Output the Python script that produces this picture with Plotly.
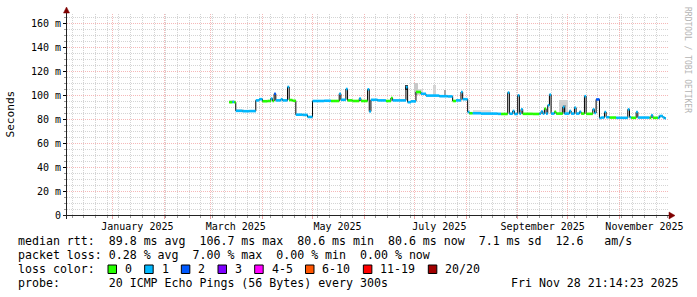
import plotly.graph_objects as go
import pandas as pd

# ---------------- data ----------------
dates = [
    "2025-03-12", "2025-03-14", "2025-03-15", "2025-03-16", "2025-03-20", "2025-03-24",
    "2025-03-28", "2025-03-30", "2025-04-01", "2025-04-04", "2025-04-06", "2025-04-07",
    "2025-04-08", "2025-04-09", "2025-04-12", "2025-04-13", "2025-04-16", "2025-04-17",
    "2025-04-19", "2025-04-21", "2025-04-25", "2025-04-28", "2025-05-01", "2025-05-08",
    "2025-05-12", "2025-05-17", "2025-05-18", "2025-05-21", "2025-05-22", "2025-05-25",
    "2025-05-29", "2025-05-30", "2025-06-03", "2025-06-04", "2025-06-05", "2025-06-09",
    "2025-06-14", "2025-06-17", "2025-06-18", "2025-06-26", "2025-06-27", "2025-06-29",
    "2025-07-02", "2025-07-05", "2025-07-08", "2025-07-16", "2025-07-21", "2025-07-24",
    "2025-07-26", "2025-07-29", "2025-07-30", "2025-08-02", "2025-08-03", "2025-08-05",
    "2025-08-10", "2025-08-20", "2025-08-22", "2025-08-26", "2025-08-27", "2025-08-29",
    "2025-08-30", "2025-09-01", "2025-09-02", "2025-09-03", "2025-09-04", "2025-09-10",
    "2025-09-14", "2025-09-15", "2025-09-16", "2025-09-17", "2025-09-18", "2025-09-19",
    "2025-09-20", "2025-09-21", "2025-09-23", "2025-09-24", "2025-09-28", "2025-09-29",
    "2025-10-02", "2025-10-03", "2025-10-05", "2025-10-06", "2025-10-08", "2025-10-09",
    "2025-10-11", "2025-10-12", "2025-10-16", "2025-10-17", "2025-10-18", "2025-10-20",
    "2025-10-21", "2025-10-23", "2025-10-24", "2025-10-26", "2025-10-30", "2025-11-06",
    "2025-11-07", "2025-11-08", "2025-11-11", "2025-11-12", "2025-11-19", "2025-11-20",
    "2025-11-21", "2025-11-24", "2025-11-25", "2025-11-27", "2025-11-28",
]
median_ms = [
    94.0, 94.2, 94.0, 86.8, 86.5, 86.6,
    95.5, 96.5, 94.8, 95.0, 97.0, 95.0,
    101.0, 95.5, 96.5, 95.5, 106.7, 95.8,
    95.2, 83.6, 83.4, 81.7, 95.0, 95.2,
    95.0, 101.0, 96.0, 105.0, 95.5, 95.0,
    97.0, 95.0, 104.7, 86.3, 96.0, 95.5,
    95.0, 97.5, 95.5, 106.5, 94.0, 94.7,
    102.5, 101.0, 99.5, 99.0, 98.8, 95.0,
    95.5, 102.5, 96.5, 85.8, 84.8, 84.8,
    84.5, 84.3, 84.2, 102.0, 84.4, 86.7,
    84.2, 99.7, 84.5, 88.0, 84.3, 84.2,
    84.5, 86.3, 84.5, 88.6, 84.5, 91.4,
    100.3, 84.5, 86.0, 84.5, 90.0, 84.5,
    86.7, 84.5, 89.4, 84.5, 86.0, 84.5,
    99.0, 84.3, 88.0, 85.0, 96.3, 80.8,
    81.2, 85.8, 81.5, 81.2, 81.0, 88.0,
    81.5, 81.0, 85.8, 81.2, 81.0, 83.0,
    81.0, 81.0, 82.5, 81.3, 80.6,
]
lost_pings = [
    0, 1, 0, 1, 1, 1,
    1, 1, 0, 0, 1, 0,
    2, 1, 1, 1, 1, 0,
    0, 1, 1, 1, 1, 1,
    0, 1, 1, 1, 0, 0,
    1, 0, 1, 1, 1, 1,
    0, 0, 1, 1, 1, 1,
    0, 1, 1, 1, 1, 0,
    1, 1, 1, 1, 0, 1,
    1, 1, 0, 1, 1, 1,
    1, 1, 1, 1, 0, 0,
    1, 1, 1, 0, 1, 1,
    1, 1, 0, 0, 1, 1,
    1, 1, 1, 1, 1, 0,
    1, 0, 1, 1, 2, 1,
    1, 1, 1, 0, 1, 1,
    1, 0, 1, 1, 0, 1,
    0, 1, 1, 1, 1,
]
data_end = "2025-11-28 21:00"

# smoke (spread of the 20 pings)
smoke_start = ["2025-03-12", "2025-03-16", "2025-07-01", "2025-07-03", "2025-07-12", "2025-07-19",
               "2025-08-05", "2025-09-26", "2025-09-28", "2025-06-26", "2025-11-24"]
smoke_end = ["2025-03-16", "2025-03-21", "2025-07-03", "2025-07-06", "2025-07-14", "2025-07-20",
             "2025-08-16", "2025-10-01", "2025-09-30", "2025-06-27", "2025-11-26"]
smoke_lo = [94.0, 86.8, 100.0, 100.0, 99.0, 99.0, 84.8, 84.5, 86.0, 104.0, 81.0]
smoke_hi = [96.0, 88.5, 110.0, 105.0, 108.0, 104.5, 87.5, 95.5, 92.0, 108.6, 83.0]
smoke_shade = ["#dcdcdc", "#e2e2e2", "#c8c8c8", "#d8d8d8", "#d4d4d4", "#a8a8a8",
               "#e0e0e0", "#d0d0d0", "#a0a0a0", "#404040", "#d8d8d8"]

loss_labels = ["0", "1", "2", "3", "4-5", "6-10", "11-19", "20/20"]
loss_upper = [0, 1, 2, 3, 5, 10, 19, 20]
loss_colors = ["#26ff00", "#00b8ff", "#0059ff", "#7e00ff", "#ff00ff", "#ff5500", "#ff0000", "#a10000"]

y_tick_vals = [0, 20, 40, 60, 80, 100, 120, 140, 160]
y_tick_text = ["0", "20 m", "40 m", "60 m", "80 m", "100 m", "120 m", "140 m", "160 m"]
month_starts = ["2025-01-01", "2025-02-01", "2025-03-01", "2025-04-01", "2025-05-01", "2025-06-01",
                "2025-07-01", "2025-08-01", "2025-09-01", "2025-10-01", "2025-11-01"]
x_label_dates = ["2025-01-16", "2025-03-16", "2025-05-16", "2025-07-16", "2025-09-16", "2025-11-16"]
x_label_text = ["January 2025", "March 2025", "May 2025", "July 2025", "September 2025", "November 2025"]
x_range = ["2024-12-04 20:00", "2025-11-30 02:00"]

stats_rtt = "median rtt:  89.8 ms avg  106.7 ms max  80.6 ms min  80.6 ms now  7.1 ms sd  12.6   am/s"
stats_loss = "packet loss: 0.28 % avg  7.00 % max  0.00 % min  0.00 % now"
probe_text = "probe:       20 ICMP Echo Pings (56 Bytes) every 300s"
stamp_text = "Fri Nov 28 21:14:23 2025"

# ---------------- figure ----------------
W, H = 697, 297
L, R, T, B = 67, 29, 14, 82
PW, PH = W - L - R, H - T - B
MONO = "DejaVu Sans Mono"
GRAY = "#d4d4d4"
RED = "#f5b8b8"


def px(x):
    return (x - L) / PW


def py(y):
    return (H - B - y) / PH


def nb(s):
    return s.replace(" ", "\u00a0")


def loss_class(n):
    for i, u in enumerate(loss_upper):
        if n <= u:
            return i
    return len(loss_upper) - 1


ts = list(pd.to_datetime(dates))
ends = ts[1:] + [pd.Timestamp(data_end)]

fig = go.Figure()

# smoke
for s, e, lo, hi, c in zip(smoke_start, smoke_end, smoke_lo, smoke_hi, smoke_shade):
    s_ts, e_ts = pd.Timestamp(s), pd.Timestamp(e)
    fig.add_trace(go.Bar(
        x=[s_ts], y=[hi - lo], base=[lo],
        width=[(e_ts - s_ts).total_seconds() * 1000], offset=0,
        marker=dict(color=c, line=dict(width=0)),
        showlegend=False, hoverinfo="skip"))

# black median connector (step)
fig.add_trace(go.Scatter(
    x=ts + [pd.Timestamp(data_end)], y=median_ms + [median_ms[-1]],
    mode="lines", line=dict(color="#000000", width=1, shape="hv"),
    showlegend=False, hoverinfo="skip"))

# coloured median segments by loss
for k, col in enumerate(loss_colors):
    xs, ys = [], []
    for t0, t1, m, n in zip(ts, ends, median_ms, lost_pings):
        if loss_class(n) == k:
            xs += [t0, t1, None]
            ys += [m, m, None]
    if xs:
        fig.add_trace(go.Scatter(x=xs, y=ys, mode="lines",
                                 line=dict(color=col, width=2.6),
                                 showlegend=False, hoverinfo="skip"))

# invisible trace for label axis
fig.add_trace(go.Scatter(x=x_label_dates, y=[None] * len(x_label_dates), xaxis="x2",
                         mode="markers", showlegend=False, hoverinfo="skip"))

fig.update_layout(
    width=W, height=H, margin=dict(l=L, r=R, t=T, b=B, pad=0),
    paper_bgcolor="white", plot_bgcolor="white",
    showlegend=False, barmode="overlay", bargap=0,
    font=dict(family=MONO, color="#000000"),
    xaxis=dict(
        type="date", range=x_range, tickmode="array", tickvals=month_starts,
        showticklabels=False, showgrid=True, gridcolor=RED, griddash="1px,1px", gridwidth=1,
        ticks="outside", ticklen=3, tickcolor="#e8a0a0",
        minor=dict(dtick=7 * 86400000, tick0="2024-12-29", showgrid=True, gridcolor=GRAY,
                   griddash="1px,1px", ticks="outside", ticklen=2, tickcolor="#999999"),
        zeroline=False, showline=False, fixedrange=True),
    xaxis2=dict(
        type="date", range=x_range, overlaying="x", anchor="y", side="bottom",
        tickmode="array", tickvals=x_label_dates, ticktext=x_label_text,
        showgrid=False, ticks="outside", ticklen=2, tickcolor="rgba(0,0,0,0)",
        tickfont=dict(family=MONO, size=10, color="#000000"),
        zeroline=False, showline=False, fixedrange=True),
    yaxis=dict(
        range=[0, 167.5], tickmode="array", tickvals=y_tick_vals, ticktext=y_tick_text,
        showgrid=True, gridcolor=RED, griddash="1px,1px", gridwidth=1,
        ticks="outside", ticklen=3, tickcolor="#000000",
        minor=dict(dtick=5, showgrid=True, gridcolor=GRAY, griddash="1px,1px",
                   ticks="outside", ticklen=2, tickcolor="#999999"),
        tickfont=dict(family=MONO, size=10, color="#000000"),
        zeroline=False, showline=False, fixedrange=True),
)

shapes = []
# axes lines
shapes.append(dict(type="line", xref="paper", yref="paper", x0=px(63), x1=px(670),
                   y0=py(215.5), y1=py(215.5), line=dict(color="#222222", width=1)))
shapes.append(dict(type="line", xref="paper", yref="paper", x0=px(66.5), x1=px(66.5),
                   y0=py(219), y1=py(11), line=dict(color="#222222", width=1)))
# arrows
shapes.append(dict(type="path", xref="paper", yref="paper",
                   path=f"M {px(669)} {py(212)} L {px(675)} {py(215.5)} L {px(669)} {py(219)} Z",
                   fillcolor="#7f0000", line=dict(color="#7f0000", width=0.5)))
shapes.append(dict(type="path", xref="paper", yref="paper",
                   path=f"M {px(63.5)} {py(13)} L {px(66.5)} {py(7)} L {px(69.5)} {py(13)} Z",
                   fillcolor="#7f0000", line=dict(color="#7f0000", width=0.5)))

annotations = []
LEG_SIZE = 11.6
CH = 7.07


def add_text(x, y, text, anchor="left", size=LEG_SIZE, color="#000000", angle=0, yanchor="middle"):
    annotations.append(dict(x=px(x), y=py(y), xref="paper", yref="paper", text=nb(text),
                            showarrow=False, xanchor=anchor, yanchor=yanchor, textangle=angle,
                            font=dict(family=MONO, size=size, color=color)))


add_text(16, 241, stats_rtt)
add_text(16, 255, stats_loss)
add_text(16, 269, "loss color:")
add_text(16, 283, probe_text)
add_text(681, 283, stamp_text, anchor="right")

# loss colour legend boxes
bx = 108
for lab, col in zip(loss_labels, loss_colors):
    shapes.append(dict(type="rect", xref="paper", yref="paper",
                       x0=px(bx), x1=px(bx + 8.5), y0=py(273.5), y1=py(265),
                       fillcolor=col, line=dict(color="#000000", width=1)))
    add_text(bx + 15, 269, lab)
    bx = bx + 29.6 + CH * len(lab)

# y title and watermark
add_text(10, 114.5, "Seconds", anchor="center", size=11.1, angle=-90)
add_text(687, 60, "RRDTOOL / TOBI OETIKER", anchor="center", size=8, color="#b4b4b4", angle=90)

fig.update_layout(shapes=shapes, annotations=annotations)
fig.write_html("out.html")
